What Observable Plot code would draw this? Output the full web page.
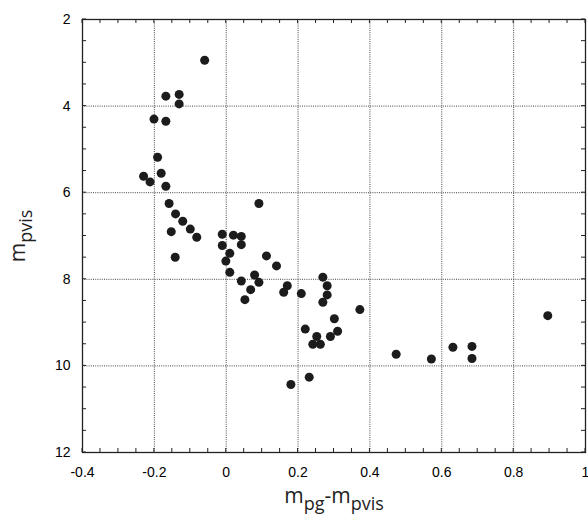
<!DOCTYPE html>
<html>
<head>
<meta charset="utf-8">
<script src="https://cdn.jsdelivr.net/npm/d3@7"></script>
<script src="https://cdn.jsdelivr.net/npm/@observablehq/plot@0.6"></script>
<style>
  html, body { margin: 0; padding: 0; background: #fff; }
  #chart { width: 588px; height: 517px; }
</style>
</head>
<body>
<div id="chart"></div>
<script>
// m_pg - m_pvis (colour index)
const colorIndex = [
  -0.060, -0.168, -0.131, -0.131, -0.201, -0.168, -0.191, -0.230, -0.212, -0.181,
  -0.168, -0.159, -0.141, -0.121, -0.153, -0.100, -0.082, 0.091, -0.011, 0.020,
  0.042, -0.142, -0.011, 0.042, 0.010, -0.001, 0.112, 0.140, 0.010, 0.042,
  0.079, 0.091, 0.068, 0.052, 0.170, 0.160, 0.209, 0.269, 0.281, 0.281,
  0.269, 0.301, 0.220, 0.252, 0.241, 0.262, 0.290, 0.310, 0.180, 0.231,
  0.372, 0.473, 0.571, 0.631, 0.684, 0.684, 0.895
];
// m_pvis (visual photographic magnitude)
const magnitude = [
  2.94, 3.77, 3.73, 3.95, 4.30, 4.35, 5.18, 5.62, 5.75, 5.55,
  5.85, 6.25, 6.49, 6.66, 6.90, 6.84, 7.03, 6.25, 6.96, 6.98,
  7.01, 7.49, 7.22, 7.20, 7.40, 7.58, 7.46, 7.69, 7.84, 8.04,
  7.90, 8.07, 8.24, 8.47, 8.15, 8.30, 8.33, 7.95, 8.15, 8.36,
  8.53, 8.91, 9.15, 9.32, 9.50, 9.50, 9.32, 9.20, 10.43, 10.26,
  8.70, 9.73, 9.84, 9.57, 9.55, 9.83, 8.84
];
const xTicks = [-0.4, -0.2, 0, 0.2, 0.4, 0.6, 0.8, 1];
const yTicks = [2, 4, 6, 8, 10, 12];
const xMinor = d3.range(-0.4, 1.0001, 0.05).map(v => +v.toFixed(2));
const yMinor = d3.range(2, 12.0001, 0.5);

const data = colorIndex.map((c, i) => ({c, m: magnitude[i]}));

const chart = Plot.plot({
  width: 588,
  height: 517,
  marginLeft: 82,
  marginRight: 3,
  marginTop: 19,
  marginBottom: 65,
  style: {fontFamily: "'Liberation Sans', Arial, sans-serif", fontSize: "14px", color: "#000", background: "#fff"},
  x: {domain: [-0.4, 1]},
  y: {domain: [2, 12], reverse: true},
  marks: [
    Plot.gridX(xTicks, {stroke: "#444", strokeOpacity: 1, strokeDasharray: "1,1.2"}),
    Plot.gridY(yTicks, {stroke: "#444", strokeOpacity: 1, strokeDasharray: "1,1.2"}),
    Plot.axisX(xTicks, {anchor: "bottom", tickSize: 0, tickPadding: 15, tickFormat: d => String(d), label: null}),
    Plot.axisY(yTicks, {anchor: "left", tickSize: 0, tickPadding: 12, tickFormat: d => String(d), label: null}),
    Plot.frame({stroke: "#222", strokeWidth: 1.3}),
    Plot.dot(data, {x: "c", y: "m", r: 4.5, fill: "#1c1c1c", stroke: "none"})
  ]
});

document.getElementById("chart").appendChild(chart);

const svg = d3.select(chart);
const sx = chart.scale("x"), sy = chart.scale("y");
const yTop = Math.min(...sy.range), yBot = Math.max(...sy.range);
const xLeft = Math.min(...sx.range), xRight = Math.max(...sx.range);
const tl = 4;
const ticks = svg.append("g").attr("stroke", "#222").attr("stroke-width", 1);
xMinor.forEach(v => {
  const px = sx.apply(v);
  ticks.append("line").attr("x1", px).attr("x2", px).attr("y1", yBot).attr("y2", yBot - tl);
  ticks.append("line").attr("x1", px).attr("x2", px).attr("y1", yTop).attr("y2", yTop + tl);
});
yMinor.forEach(v => {
  const py = sy.apply(v);
  ticks.append("line").attr("y1", py).attr("y2", py).attr("x1", xLeft).attr("x2", xLeft + tl);
  ticks.append("line").attr("y1", py).attr("y2", py).attr("x1", xRight).attr("x2", xRight - tl);
});

const titleFont = "'Open Sans', 'DejaVu Sans', sans-serif";
// x axis title
const xt = svg.append("text")
  .attr("x", 334).attr("y", 503)
  .attr("text-anchor", "middle")
  .attr("font-family", titleFont)
  .attr("font-size", 21)
  .attr("fill", "#222");
xt.append("tspan").text("m");
xt.append("tspan").attr("dy", 7).attr("font-size", 18).text("pg");
xt.append("tspan").attr("dy", -7).text("-m");
xt.append("tspan").attr("dy", 7).attr("font-size", 18).text("pvis");

// y axis title
const yt = svg.append("text")
  .attr("transform", "translate(25,236) rotate(-90)")
  .attr("text-anchor", "middle")
  .attr("font-family", titleFont)
  .attr("font-size", 21)
  .attr("fill", "#222");
yt.append("tspan").text("m");
yt.append("tspan").attr("dy", 7).attr("font-size", 18).text("pvis");
</script>
</body>
</html>
